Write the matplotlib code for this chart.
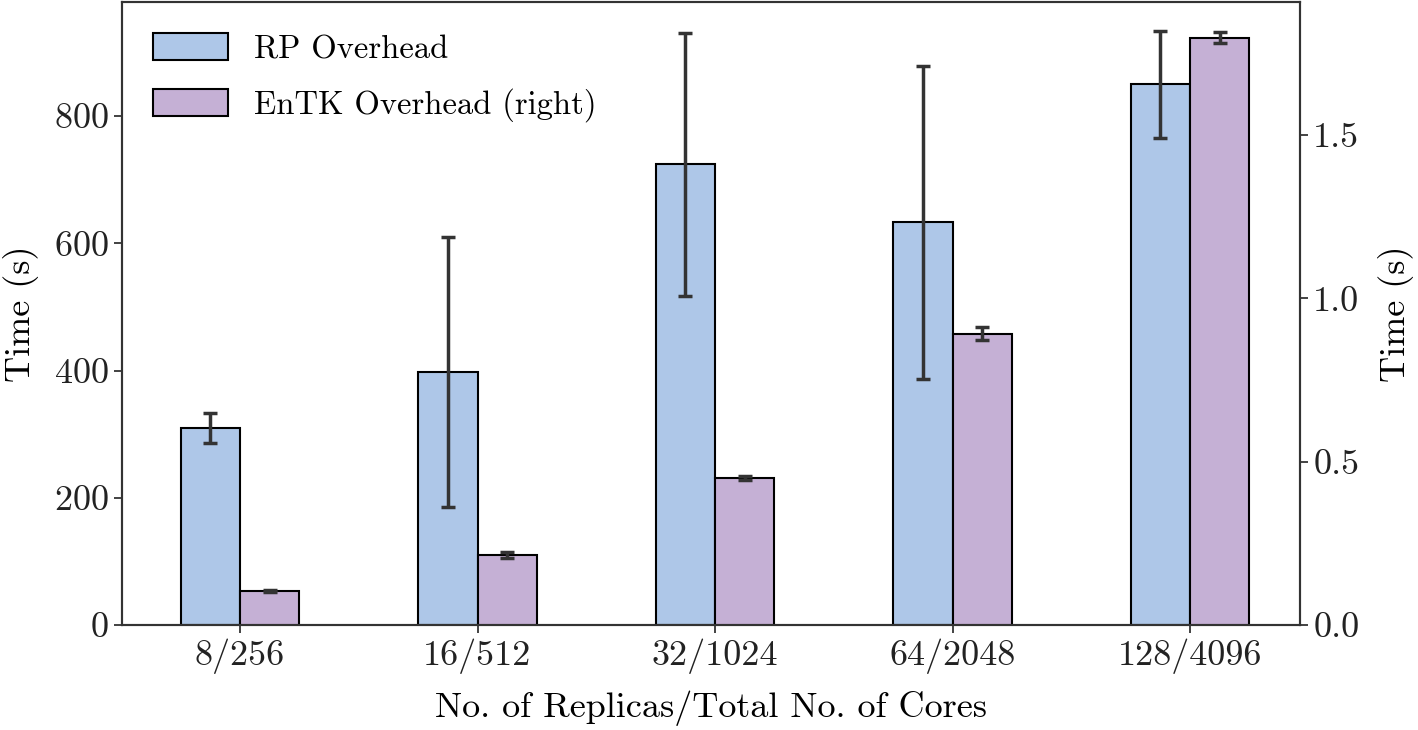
import numpy as np
import matplotlib.pyplot as plt

plt.rcParams['font.family'] = ['cmr10', 'DejaVu Serif']
plt.rcParams['mathtext.fontset'] = 'cm'
plt.rcParams['axes.unicode_minus'] = False
plt.rcParams['axes.formatter.use_mathtext'] = True
plt.rcParams['font.size'] = 26

# Datos
categorias = ['8/256', '16/512', '32/1024', '64/2048', '128/4096']
rp_media = [310, 398, 724, 633, 850]
rp_error = [24, 212, 207, 246, 84]
entk_media = [0.104, 0.214, 0.449, 0.892, 1.797]
entk_error = [0.004, 0.009, 0.006, 0.02, 0.017]

x = np.arange(len(categorias))
ancho = 0.25

fig = plt.figure(figsize=(14.18, 7.30), dpi=100)
ax = fig.add_axes([0.086, 0.1438, 0.8308, 0.8532])
ax2 = ax.twinx()

ax.bar(x - ancho / 2, rp_media, ancho, color='#aec7e8', edgecolor='black',
       linewidth=1.5, label='RP Overhead')
ax.errorbar(x - ancho / 2, rp_media, yerr=rp_error, fmt='none', ecolor='#333333',
            elinewidth=2.5, capsize=5, capthick=2.5)

ax2.bar(x + ancho / 2, entk_media, ancho, color='#c5b0d5', edgecolor='black',
        linewidth=1.5, label='EnTK Overhead (right)')
ax2.errorbar(x + ancho / 2, entk_media, yerr=entk_error, fmt='none', ecolor='#333333',
             elinewidth=2.5, capsize=5, capthick=2.5)

ax.set_xlim(-0.497, 4.463)
ax.set_ylim(0, 979)
ax2.set_ylim(0, 1.906)
ax.set_yticks([0, 200, 400, 600, 800])
ax2.set_yticks([0.0, 0.5, 1.0, 1.5])
ax2.set_yticklabels(['0.0', '0.5', '1.0', '1.5'])
ax.set_xticks(x)
ax.set_xticklabels(categorias)

ax.set_xlabel('No. of Replicas/Total No. of Cores', labelpad=12)
ax.set_ylabel('Time (s)', labelpad=11)
ax2.set_ylabel('Time (s)', labelpad=13)

for a in (ax, ax2):
    a.tick_params(length=6, width=1.2, colors='#222222')
    for s in a.spines.values():
        s.set_color('#333333')
        s.set_linewidth(1.5)

# Leyendas
h1, l1 = ax.get_legend_handles_labels()
h2, l2 = ax2.get_legend_handles_labels()
ax2.legend(h1 + h2, l1 + l2, loc='upper left', frameon=False, fontsize=23.5,
           handlelength=2.3, handleheight=0.9, handletextpad=0.8,
           borderaxespad=0.55, labelspacing=0.75)

fig.savefig('out.png', dpi=100)
